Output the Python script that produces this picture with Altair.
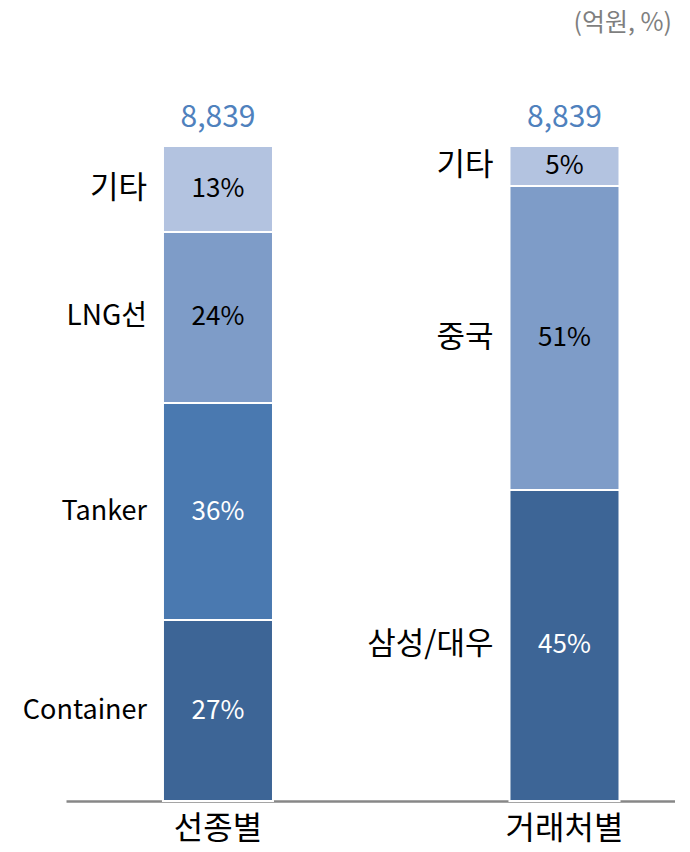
import re
import altair as alt
import pandas as pd

# ---- data ----
groups = ["선종별", "거래처별"]
left_cats = ["Container", "Tanker", "LNG선", "기타"]          # bottom -> top
left_shares = [27.6, 33.1, 26.1, 13.1]                         # bar heights (%)
left_labels = ["27%", "36%", "24%", "13%"]
right_cats = ["삼성/대우", "중국", "기타"]
right_shares = [47.5, 46.4, 6.1]
right_labels = ["45%", "51%", "5%"]
totals = ["8,839", "8,839"]

left_colors = ["#3D6596", "#4A79B0", "#7E9CC8", "#B3C3E0"]
right_colors = ["#3D6596", "#7E9CC8", "#B3C3E0"]
left_text = ["white", "white", "black", "black"]
right_text = ["white", "black", "black"]

hangul = re.compile(r"[\uac00-\ud7a3]")

rows = []
for g, cats, shares, labels, cols, tcols in [
    (groups[0], left_cats, left_shares, left_labels, left_colors, left_text),
    (groups[1], right_cats, right_shares, right_labels, right_colors, right_text),
]:
    base = 0.0
    tot = sum(shares)
    for i, (c, s, l, col, tc) in enumerate(zip(cats, shares, labels, cols, tcols)):
        y0 = base / tot * 100
        y1 = (base + s) / tot * 100
        n_h = len(hangul.findall(c))
        fs = 27 if n_h == 0 else (31 if n_h == len(c.replace("/", "")) else 28)
        rows.append(dict(group=g, cat=c, y0=y0, y1=y1, mid=(y0 + y1) / 2,
                         label=l, color=col, tcolor=tc, fs=fs))
        base += s
df = pd.DataFrame(rows)
tot_df = pd.DataFrame({"group": groups, "total": totals, "top": [100, 100]})

FONT = "Noto Sans CJK KR"

xscale = alt.Scale(domain=groups, paddingInner=0.6825, paddingOuter=0.22,
                   align=0.636, round=False)
yscale = alt.Scale(domain=[0, 100], nice=False)

xenc = alt.X("group:N", scale=xscale, sort=groups,
             axis=alt.Axis(title=None, labelAngle=0, ticks=False, grid=False,
                           domainColor="#878787", domainWidth=2.5,
                           labelFontSize=32, labelFont=FONT,
                           labelColor="#000000", labelPadding=12))

bars = alt.Chart(df).mark_bar(stroke="white", strokeWidth=2).encode(
    x=xenc,
    y=alt.Y("y0:Q", scale=yscale, axis=None),
    y2="y1:Q",
    color=alt.Color("color:N", scale=None),
)

pct = alt.Chart(df).mark_text(fontSize=26, font=FONT).encode(
    x=alt.X("group:N", scale=xscale, sort=groups),
    y=alt.Y("mid:Q", scale=yscale),
    text="label:N",
    color=alt.Color("tcolor:N", scale=None),
)

cats = alt.Chart(df).mark_text(font=FONT, align="right", dx=-71,
                               color="black").encode(
    x=alt.X("group:N", scale=xscale, sort=groups),
    y=alt.Y("mid:Q", scale=yscale),
    text="cat:N",
    size=alt.Size("fs:Q", scale=None, legend=None),
)

tots = alt.Chart(tot_df).mark_text(fontSize=30, font=FONT, color="#4F81BD",
                                   dy=-28).encode(
    x=alt.X("group:N", scale=xscale, sort=groups),
    y=alt.Y("top:Q", scale=yscale),
    text="total:N",
)

unit = alt.Chart(pd.DataFrame({"t": ["(억원, %)"]})).mark_text(
    fontSize=25, font=FONT, color="#7F7F7F", align="right",
    baseline="middle").encode(
    x=alt.value(606), y=alt.value(-123), text="t:N")

chart = alt.layer(bars, pct, cats, tots, unit).properties(
    width=609, height=655,
    padding={"left": 58, "top": 138, "right": 0, "bottom": 43},
    autosize=alt.AutoSizeParams(type="none"),
    background="white",
).configure_view(stroke=None)

chart.save("out.html", embed_options={"renderer": "svg", "actions": False})
